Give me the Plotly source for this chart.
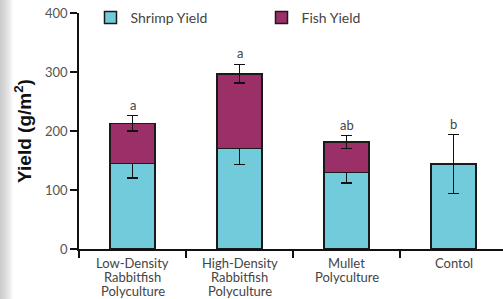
import plotly.graph_objects as go

categories = ["Low-Density Rabbitfish Polyculture", "High-Density Rabbitfish Polyculture",
              "Mullet Polyculture", "Contol"]
tick_lines = [["Low-Density", "Rabbitfish", "Polyculture"],
              ["High-Density", "Rabbitfish", "Polyculture"],
              ["Mullet", "Polyculture"],
              ["Contol"]]
shrimp = [145, 170, 130, 144]
shrimp_err = [25, 27, 18, 50]
fish = [68, 127, 51, None]
fish_err = [13, 16, 11, None]
letters = ["a", "a", "ab", "b"]

W, H = 503, 299
ML, MR, MT, MB = 79, 0, 13, 50
PW = W - ML - MR
PH = H - MT - MB

SHRIMP_C = "#72CBDB"
FISH_C = "#9B3068"
FONT = "Lato"

fig = go.Figure()
fig.add_trace(go.Bar(
    x=categories, y=shrimp, name="Shrimp Yield", width=0.42,
    marker=dict(color=SHRIMP_C, line=dict(color="#1a1a1a", width=1.5)),
    error_y=dict(type="data", array=shrimp_err, color="#111", thickness=1.5, width=5.5),
))
fig.add_trace(go.Bar(
    x=categories, y=fish, name="Fish Yield", width=0.42,
    marker=dict(color=FISH_C, line=dict(color="#1a1a1a", width=1.5)),
    error_y=dict(type="data", array=fish_err, color="#111", thickness=1.5, width=5.5),
))

annotations = []
# significance letters above the error bars
for i, c in enumerate(categories):
    if fish[i] is not None:
        top = shrimp[i] + fish[i] + fish_err[i]
    else:
        top = shrimp[i] + shrimp_err[i]
    annotations.append(dict(x=c, y=top, xref="x", yref="y", text=letters[i], showarrow=False,
                            yanchor="bottom", yshift=1,
                            font=dict(family=FONT, size=13, color="#444")))

# category labels (multi-line, tight line spacing)
for i, c in enumerate(categories):
    for j, line in enumerate(tick_lines[i]):
        annotations.append(dict(x=c, y=0, xref="x", yref="paper", text=line, showarrow=False,
                                yanchor="middle", yshift=-(14 + 14 * j), height=14,
                                font=dict(family=FONT, size=13, color="#444")))

# soft grey page-edge shading at the far left
shapes = []
n = 14
for k in range(n):
    x0 = (k - ML) / PW
    x1 = (k + 1 - ML) / PW
    g = int(205 + (255 - 205) * (k / (n - 1)) ** 1.3)
    shapes.append(dict(type="rect", xref="paper", yref="paper", x0=x0, x1=x1,
                       y0=-MB / PH, y1=1 + MT / PH,
                       fillcolor=f"rgb({g},{g},{g})", line=dict(width=0), layer="below"))

fig.update_layout(
    width=W, height=H,
    margin=dict(l=ML, r=MR, t=MT, b=MB, autoexpand=False),
    barmode="stack",
    plot_bgcolor="white", paper_bgcolor="white",
    shapes=shapes,
    annotations=annotations,
    showlegend=True,
    legend=dict(orientation="h", x=(90.5 - ML) / PW, y=1 - 5 / PH, xanchor="left", yanchor="middle",
                entrywidth=126, entrywidthmode="pixels", itemwidth=30,
                font=dict(family=FONT, size=14, color="#444"), bgcolor="rgba(0,0,0,0)",
                traceorder="normal"),
    xaxis=dict(range=[-0.5, -0.5 + PW / 107], showline=True, linecolor="#111", linewidth=1.5,
               ticks="outside", tickson="boundaries", ticklen=7, tickwidth=1.5, tickcolor="#111",
               showticklabels=False, showgrid=False, zeroline=False),
    yaxis=dict(range=[0, 400], showline=True, linecolor="#111", linewidth=1.5,
               ticks="outside", ticklen=7, tickwidth=1.5, tickcolor="#111",
               tickvals=[0, 100, 200, 300, 400],
               tickfont=dict(family=FONT, size=13, color="#555"), showgrid=False, zeroline=False,
               title=dict(text="<b>Yield (g/m<sup>2</sup>)</b>", standoff=8,
                          font=dict(family="Liberation Sans", size=19, color="#111"))),
)

fig.write_html("out.html", config={"displayModeBar": False},
               post_script="document.body.style.margin='0';document.body.style.overflow='hidden';")
